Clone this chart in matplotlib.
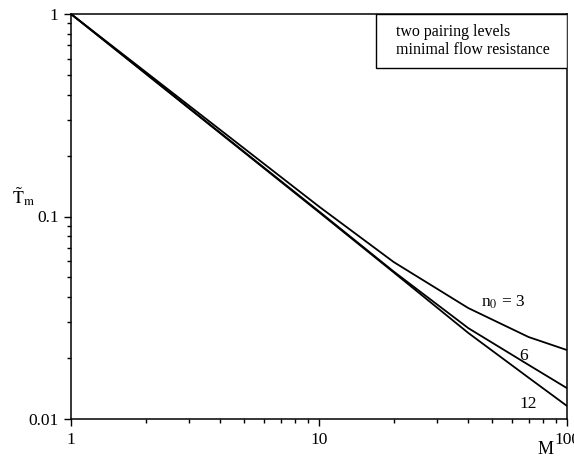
import matplotlib
matplotlib.use("Agg")
import matplotlib.pyplot as plt
from matplotlib.patches import Rectangle
from matplotlib.ticker import LogLocator, NullFormatter, FixedLocator, FixedFormatter

plt.rcParams['font.family'] = ['Liberation Serif', 'DejaVu Serif']
plt.rcParams['mathtext.fontset'] = 'stix'

# values
M = [1, 10, 20, 40, 70, 100]
T_n3 = [1.0, 0.112, 0.0596, 0.0353, 0.0254, 0.0219]
T_n6 = [1.0, 0.106, 0.0535, 0.0281, 0.0185, 0.0142]
T_n12 = [1.0, 0.105, 0.0530, 0.0266, 0.0160, 0.0116]

x_ticks = [1, 10, 100]
x_labels = ['1', '10', '100']
y_ticks = [0.01, 0.1, 1]
y_labels = ['0.01', '0.1', '1']

fig = plt.figure(figsize=(5.74, 4.58), dpi=100)
ax = fig.add_axes([71 / 574, 1 - 419 / 458, 496 / 574, 405 / 458])

ax.plot(M, T_n3, color='black', lw=1.3)
ax.plot(M, T_n6, color='black', lw=1.3)
ax.plot(M, T_n12, color='black', lw=1.3)

ax.set_xscale('log')
ax.set_yscale('log')
ax.set_xlim(1, 100)
ax.set_ylim(0.01, 1)

ax.xaxis.set_major_locator(FixedLocator(x_ticks))
ax.xaxis.set_major_formatter(FixedFormatter(x_labels))
ax.yaxis.set_major_locator(FixedLocator(y_ticks))
ax.yaxis.set_major_formatter(FixedFormatter(y_labels))
ax.xaxis.set_minor_locator(LogLocator(base=10, subs=range(2, 10)))
ax.yaxis.set_minor_locator(LogLocator(base=10, subs=range(2, 10)))
ax.xaxis.set_minor_formatter(NullFormatter())
ax.yaxis.set_minor_formatter(NullFormatter())

ax.tick_params(which='major', direction='out', length=5, width=1, labelsize=12.5, pad=4)
ax.tick_params(which='minor', direction='out', length=3, width=1)
for s in ax.spines.values():
    s.set_linewidth(1.1)

ax.set_ylabel(r'$\tilde{\mathrm{T}}_{\mathrm{m}}$', fontsize=13, rotation=0)
ax.yaxis.set_label_coords(-0.095, 0.52)
ax.set_xlabel('M', fontsize=13)
ax.xaxis.set_label_coords(0.956, -0.055)

# curve labels
ax.text(45, 0.0375, r'n$_0$ = 3', fontsize=12.5, ha='left', va='center')
ax.text(67, 0.0205, '6', fontsize=12.5, ha='center', va='center')
ax.text(70, 0.0118, '12', fontsize=12.5, ha='center', va='center')

# legend-like box in the top right corner
ax.add_patch(Rectangle((0.615, 0.867), 0.385, 0.133, transform=ax.transAxes,
                       facecolor='white', edgecolor='black', lw=1.0, zorder=3))
ax.text(0.655, 0.955, 'two pairing levels', transform=ax.transAxes,
        fontsize=11.5, va='center', zorder=4)
ax.text(0.655, 0.912, 'minimal flow resistance', transform=ax.transAxes,
        fontsize=11.5, va='center', zorder=4)

plt.savefig('out.png', dpi=100)
